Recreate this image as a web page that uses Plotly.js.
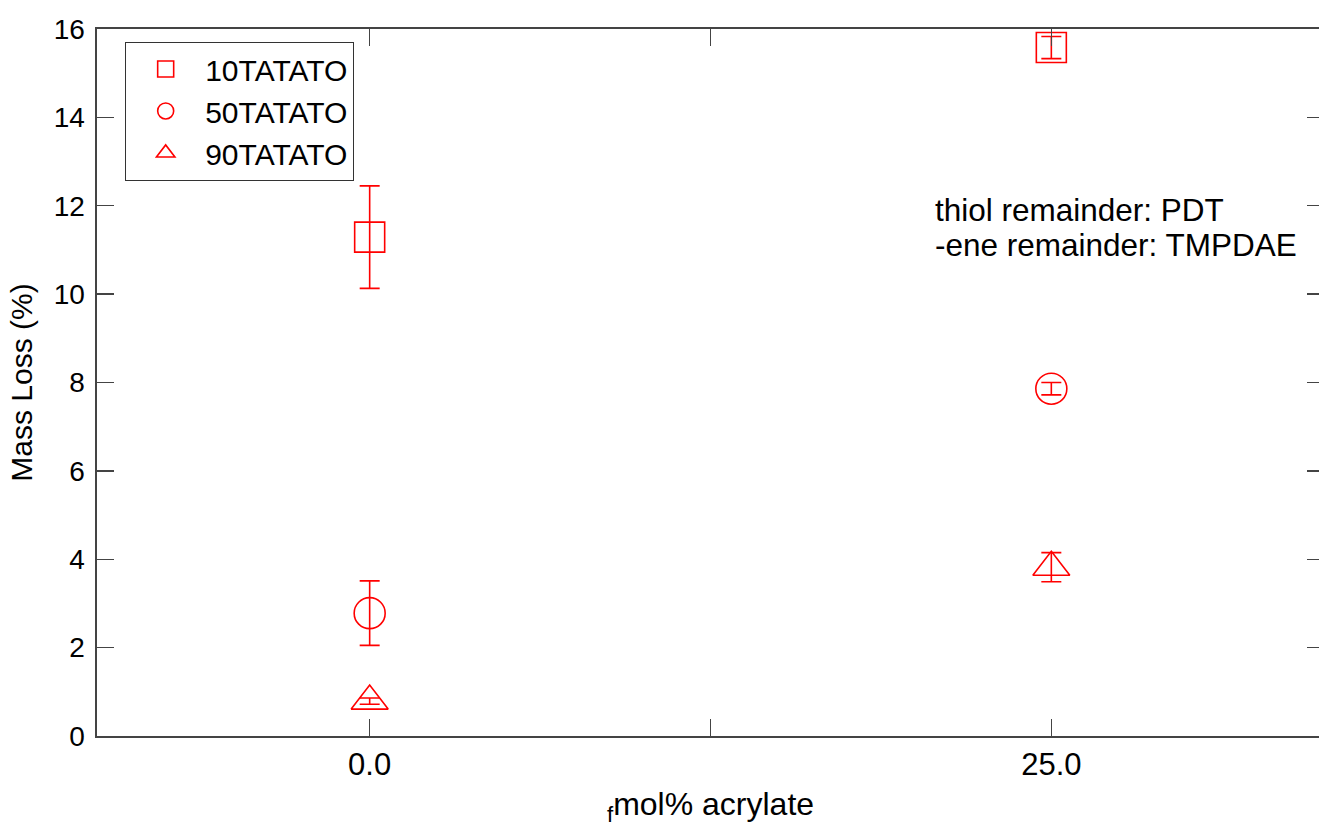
<!DOCTYPE html>
<html>
<head>
<meta charset="utf-8">
<script src="https://cdn.plot.ly/plotly-3.0.1.min.js"></script>
<style>
html, body { margin: 0; padding: 0; overflow: hidden; background: #fff; }
#chart { width: 1324px; height: 827px; }
</style>
</head>
<body>
<div id="chart"></div>
<script>
// Data
const xValues = [0, 25];
const seriesNames = ["10TATATO", "50TATATO", "90TATATO"];
const mass10 = [11.29, 15.58];
const err10 = [1.16, 0.25];
const mass50 = [2.78, 7.86];
const err50 = [0.73, 0.14];
const mass90 = [0.79, 3.82];
const err90 = [0.07, 0.33];
const xTickVals = [0, 12.5, 25];
const xTickText = ["0.0", "", "25.0"];
const yTickVals = [0, 2, 4, 6, 8, 10, 12, 14, 16];

const RED = "#ff0000";
const FONT = "Liberation Sans, Arial, sans-serif";

function mk(name, y, err, symbol, size) {
  return {
    type: "scatter", mode: "markers", name: name,
    x: xValues, y: y,
    marker: { symbol: symbol, size: size, color: RED, line: { color: RED, width: 1.6 } },
    error_y: { type: "data", array: err, visible: true, color: RED, thickness: 1.6, width: 10 }
  };
}

const data = [
  mk(seriesNames[0], mass10, err10, "square-open", 30),
  mk(seriesNames[1], mass50, err50, "circle-open", 31),
  mk(seriesNames[2], mass90, err90, "triangle-up-open", 32)
];

const axisCommon = {
  showgrid: false, zeroline: false, showline: true, linecolor: "#444", linewidth: 1.6,
  ticks: "inside", ticklen: 17, tickwidth: 1.4, tickcolor: "#444", mirror: "ticks"
};

const layout = {
  width: 1324, height: 827,
  margin: { l: 97, r: 0, t: 29, b: 91 },
  paper_bgcolor: "#fff", plot_bgcolor: "#fff",
  showlegend: true,
  xaxis: Object.assign({}, axisCommon, {
    range: [-10, 35], tickmode: "array", tickvals: xTickVals, ticktext: xTickText,
    tickfont: { family: FONT, size: 31, color: "#000" },
    ticklabelstandoff: 0,
    title: { text: "<sub>f</sub>mol% acrylate", font: { family: FONT, size: 32, color: "#000" }, standoff: 20 }
  }),
  yaxis: Object.assign({}, axisCommon, {
    range: [0, 16], tickmode: "array", tickvals: yTickVals,
    tickfont: { family: FONT, size: 28, color: "#000" },
    ticklabelstandoff: 5,
    title: { text: "Mass Loss (%)", font: { family: FONT, size: 30, color: "#000" }, standoff: 12 }
  }),
  legend: {
    x: 0.0228, y: 0.982, xanchor: "left", yanchor: "top",
    bgcolor: "#fff", bordercolor: "#333", borderwidth: 1.2,
    font: { family: FONT, size: 30, color: "#000" },
    itemwidth: 69, tracegroupgap: 0
  },
  annotations: [
    { xref: "paper", yref: "paper", x: 0.6813, y: 0.744, xanchor: "left", yanchor: "middle",
      text: "thiol remainder: PDT", showarrow: false, font: { family: FONT, size: 31.5, color: "#000" } },
    { xref: "paper", yref: "paper", x: 0.6813, y: 0.6945, xanchor: "left", yanchor: "middle",
      text: "-ene remainder: TMPDAE", showarrow: false, font: { family: FONT, size: 31.5, color: "#000" } }
  ]
};

Plotly.newPlot("chart", data, layout, { displayModeBar: false, staticPlot: true });
</script>
</body>
</html>
